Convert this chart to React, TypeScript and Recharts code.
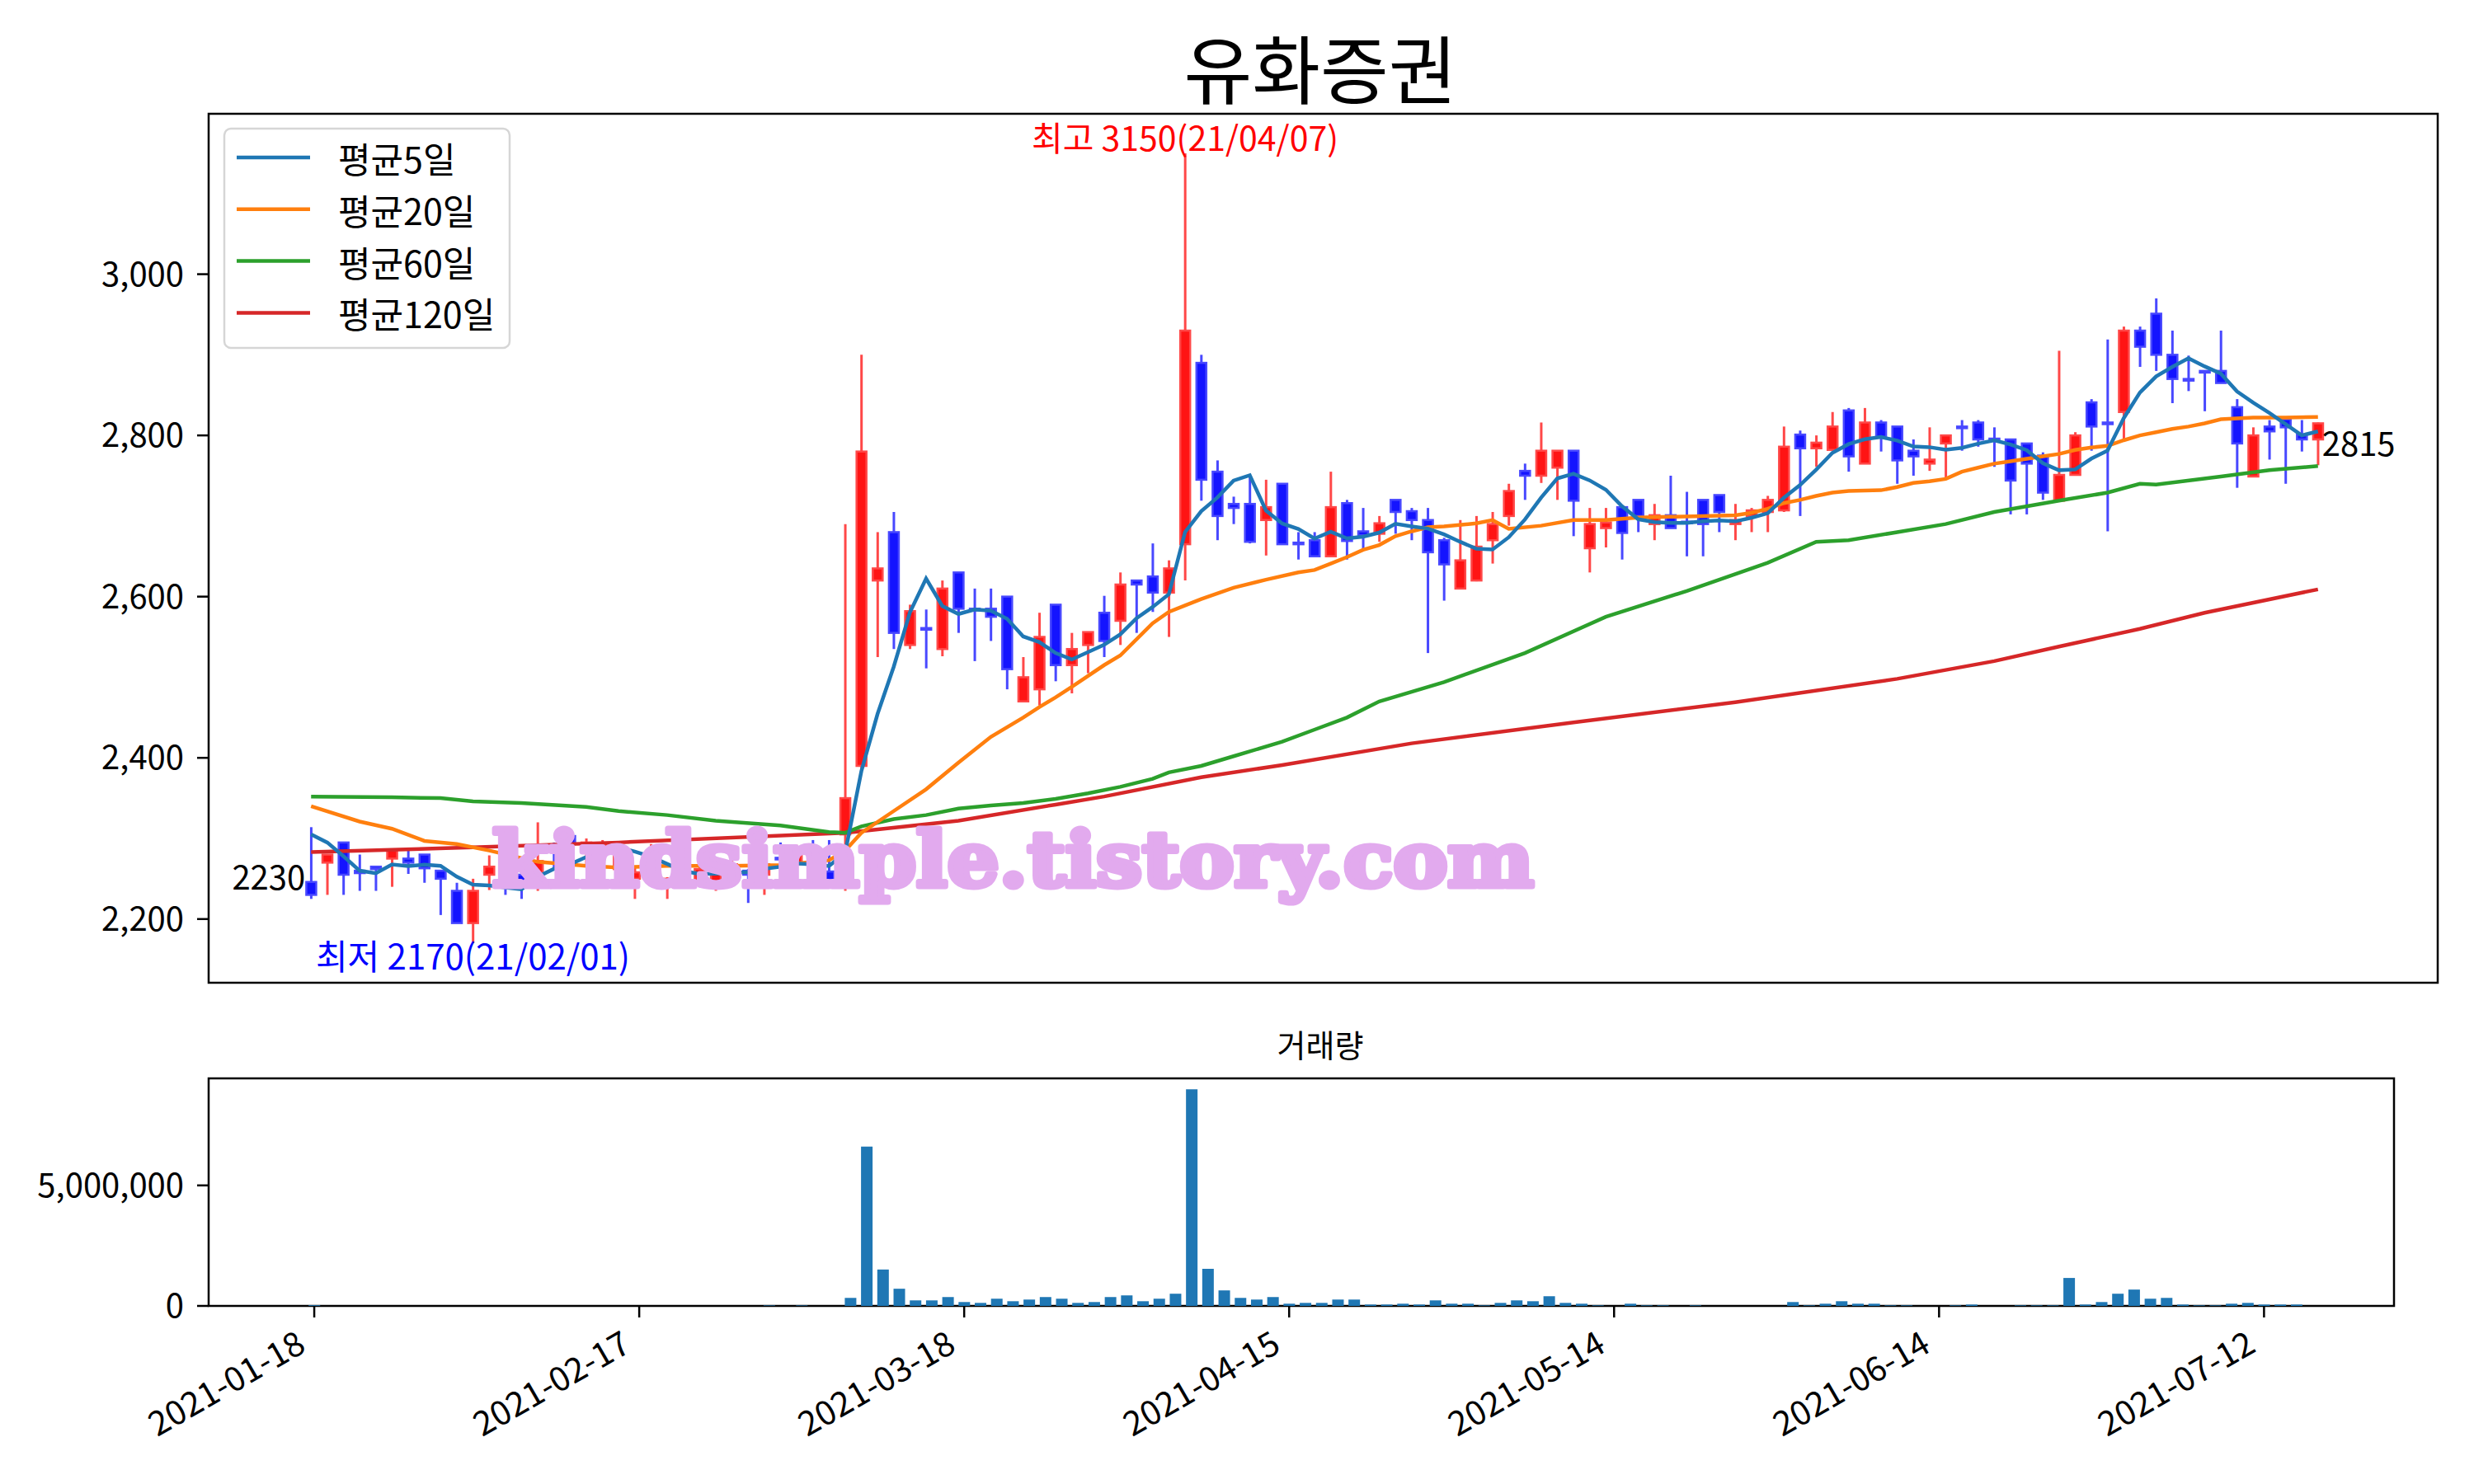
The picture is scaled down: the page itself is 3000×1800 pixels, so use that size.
import React from "react";
import {
  Bar,
  ComposedChart,
  Line,
  ReferenceArea,
  ReferenceDot,
  XAxis,
  YAxis,
} from "recharts";

const FONT = "'Noto Sans CJK KR', 'Noto Sans', sans-serif";

const UP_FILL = "#ff1414";
const UP_EDGE = "#ff4848";
const DOWN_FILL = "#1414ff";
const DOWN_EDGE = "#4848ff";

const TITLE = "유화증권";
const VOLUME_TITLE = "거래량";
const WATERMARK = "kindsimple.tistory.com";
const MA_LABELS = ["평균5일", "평균20일", "평균60일", "평균120일"];
const MA_COLORS = ["#1f77b4", "#ff7f0e", "#2ca02c", "#d62728"];

// trading-day index ticks and their labels
const TICK_IDX = [0, 20, 40, 60, 80, 100, 120];
const DATE_LABELS = [
  "2021-01-18",
  "2021-02-17",
  "2021-03-18",
  "2021-04-15",
  "2021-05-14",
  "2021-06-14",
  "2021-07-12",
];
const PRICE_TICKS = [2200, 2400, 2600, 2800, 3000];
const VOLUME_TICKS = [0, 5000000];

// daily OHLC, index 0 = 2021-01-18
const opens = [
  2246, 2270, 2295, 2260, 2265, 2275, 2275, 2280, 2260, 2235,
  2195, 2255, 2270, 2255, 2245, 2292, 2303, 2285, 2282, 2262,
  2250, 2256, 2240, 2265, 2248, 2244, 2255, 2260, 2255, 2276,
  2268, 2268, 2259, 2305, 2390, 2620, 2680, 2540, 2561, 2535,
  2630, 2585, 2585, 2600, 2470, 2485, 2590, 2515, 2540, 2580,
  2570, 2620, 2625, 2605, 2665, 2890, 2755, 2715, 2715, 2695,
  2740, 2667, 2670, 2650, 2716, 2681, 2678, 2720, 2706, 2695,
  2670, 2610, 2620, 2670, 2700, 2756, 2750, 2760, 2781, 2660,
  2685, 2711, 2720, 2690, 2701, 2693, 2720, 2726, 2690, 2700,
  2705, 2707, 2801, 2784, 2782, 2831, 2765, 2816, 2811, 2781,
  2765, 2790, 2811, 2816, 2796, 2795, 2790, 2775, 2719, 2751,
  2841, 2816, 2829, 2930, 2951, 2900, 2870, 2880, 2880, 2835,
  2749, 2811, 2820, 2801, 2795,
];
const highs = [
  2314, 2280, 2295, 2280, 2266, 2285, 2286, 2280, 2260, 2245,
  2250, 2279, 2272, 2258, 2320, 2295, 2310, 2300, 2298, 2285,
  2265, 2293, 2252, 2270, 2265, 2262, 2285, 2262, 2275, 2295,
  2292, 2298, 2298, 2690, 2900, 2680, 2705, 2590, 2584, 2620,
  2630, 2610, 2610, 2600, 2525, 2580, 2590, 2555, 2556, 2601,
  2630, 2620, 2666, 2645, 3150, 2900, 2769, 2724, 2750, 2745,
  2740, 2680, 2680, 2755, 2720, 2710, 2700, 2720, 2710, 2710,
  2673, 2695, 2700, 2705, 2740, 2765, 2816, 2781, 2781, 2710,
  2710, 2711, 2720, 2715, 2750, 2730, 2720, 2726, 2715, 2710,
  2725, 2811, 2806, 2800, 2829, 2834, 2834, 2819, 2811, 2795,
  2810, 2800, 2819, 2819, 2810, 2795, 2790, 2779, 2905, 2804,
  2845, 2919, 2935, 2935, 2970, 2930, 2899, 2880, 2930, 2845,
  2810, 2819, 2820, 2819, 2816,
];
const lows = [
  2225, 2230, 2230, 2235, 2235, 2240, 2256, 2245, 2205, 2195,
  2170, 2236, 2230, 2225, 2235, 2262, 2280, 2265, 2260, 2250,
  2225, 2246, 2225, 2240, 2245, 2235, 2245, 2220, 2230, 2260,
  2255, 2255, 2240, 2235, 2385, 2525, 2535, 2535, 2511, 2526,
  2555, 2520, 2545, 2485, 2470, 2465, 2495, 2480, 2505, 2525,
  2540, 2555, 2581, 2550, 2620, 2719, 2670, 2690, 2666, 2651,
  2665, 2646, 2650, 2650, 2646, 2659, 2668, 2678, 2670, 2530,
  2595, 2610, 2619, 2641, 2688, 2720, 2741, 2720, 2675, 2630,
  2661, 2646, 2680, 2670, 2685, 2650, 2650, 2680, 2670, 2680,
  2680, 2705, 2700, 2761, 2782, 2755, 2765, 2780, 2740, 2750,
  2756, 2747, 2781, 2786, 2761, 2702, 2702, 2720, 2719, 2751,
  2781, 2681, 2795, 2885, 2880, 2840, 2855, 2830, 2865, 2735,
  2749, 2770, 2740, 2780, 2763,
];
const closes = [
  2230, 2280, 2255, 2257, 2262, 2285, 2270, 2263, 2250, 2195,
  2235, 2265, 2250, 2240, 2272, 2284, 2294, 2295, 2292, 2280,
  2258, 2262, 2250, 2248, 2262, 2259, 2268, 2255, 2268, 2274,
  2280, 2262, 2245, 2350, 2780, 2635, 2555, 2582, 2560, 2610,
  2585, 2583, 2575, 2510, 2500, 2550, 2515, 2535, 2556, 2545,
  2615, 2615, 2605, 2635, 2930, 2745, 2700, 2710, 2668, 2711,
  2665, 2666, 2650, 2711, 2669, 2676, 2691, 2705, 2695, 2655,
  2640, 2645, 2662, 2690, 2731, 2750, 2781, 2781, 2719, 2690,
  2692, 2679, 2700, 2701, 2685, 2692, 2690, 2705, 2695, 2707,
  2720, 2786, 2784, 2791, 2811, 2774, 2816, 2798, 2769, 2774,
  2770, 2800, 2810, 2795, 2795, 2744, 2765, 2729, 2751, 2800,
  2811, 2815, 2930, 2910, 2900, 2870, 2869, 2879, 2865, 2790,
  2800, 2805, 2810, 2795, 2815,
];

// traded volume (shares), index 0..122
const volumes = [
  30000, 0, 0, 0, 0, 0, 0, 0, 0, 0,
  0, 0, 0, 0, 0, 0, 0, 0, 0, 0,
  0, 0, 0, 0, 0, 0, 0, 0, 20000, 0,
  20000, 0, 0, 333000, 6610000, 1510000, 713000, 230000, 230000, 368000,
  161000, 126000, 299000, 195000, 264000, 368000, 299000, 126000, 161000, 368000,
  437000, 195000, 299000, 506000, 8990000, 1540000, 644000, 333000, 264000, 368000,
  92000, 126000, 126000, 264000, 264000, 57000, 57000, 92000, 57000, 230000,
  92000, 92000, 23000, 126000, 230000, 195000, 402000, 126000, 92000, 23000,
  0, 92000, 23000, 23000, 0, 23000, 0, 0, 0, 0,
  0, 161000, 23000, 92000, 195000, 92000, 92000, 23000, 23000, 0,
  0, 23000, 57000, 0, 0, 23000, 23000, 23000, 1160000, 57000,
  161000, 506000, 678000, 299000, 333000, 57000, 23000, 23000, 92000, 126000,
  57000, 57000, 57000,
];

// moving averages: [index, value]
const ma5Head = [2305, 2295, 2278, 2260];
const ma20Pts: [number, number][] = [
  [0, 2340], [3, 2321], [5, 2312], [7, 2297], [9, 2293], [11, 2285], [14, 2271],
  [17, 2266], [19, 2264], [22, 2266], [26, 2266], [29, 2267], [32, 2273], [33, 2285],
  [34, 2307], [36, 2334], [38, 2361], [40, 2394], [42, 2426], [44, 2450], [45, 2463],
  [46, 2475], [47, 2488], [49, 2515], [50, 2527], [52, 2567], [53, 2581], [54, 2589],
  [55, 2597], [57, 2611], [59, 2621], [61, 2630], [62, 2633], [63, 2641], [64, 2649],
  [65, 2658], [66, 2664], [67, 2675], [68, 2681], [69, 2686], [70, 2687], [72, 2691],
  [73, 2695], [74, 2684], [76, 2688], [78, 2695], [80, 2695], [82, 2698], [84, 2699],
  [86, 2700], [88, 2701], [89, 2704], [90, 2709], [91, 2716], [92, 2720], [93, 2725],
  [94, 2729], [95, 2731], [97, 2732], [98, 2736], [99, 2741], [100, 2743], [101, 2746],
  [102, 2755], [103, 2760], [104, 2765], [105, 2768], [106, 2771], [107, 2774], [108, 2777],
  [109, 2782], [110, 2785], [111, 2787], [112, 2794], [113, 2800], [114, 2804], [115, 2808],
  [116, 2811], [117, 2815], [118, 2820], [119, 2821], [120, 2822], [122, 2822], [124, 2823],
];
const ma60Pts: [number, number][] = [
  [0, 2352], [5, 2351], [8, 2350], [10, 2346], [13, 2344], [17, 2339], [19, 2334],
  [22, 2329], [25, 2322], [29, 2316], [32, 2308], [33, 2307], [34, 2315], [36, 2324],
  [38, 2329], [40, 2337], [42, 2341], [44, 2344], [46, 2349], [48, 2356], [50, 2364],
  [52, 2374], [53, 2382], [55, 2390], [57, 2402], [60, 2420], [62, 2435], [64, 2450],
  [66, 2470], [70, 2494], [75, 2530], [80, 2575], [85, 2607], [90, 2642], [93, 2668],
  [95, 2670], [98, 2680], [101, 2690], [104, 2705], [108, 2719], [111, 2729], [113, 2740],
  [114, 2739], [118, 2749], [121, 2757], [124, 2762],
];
const ma120Pts: [number, number][] = [
  [0, 2283], [10, 2289], [19, 2295], [33, 2307], [40, 2322], [46, 2342], [49, 2352],
  [55, 2376], [60, 2391], [68, 2418], [78, 2444], [88, 2469], [98, 2498], [104, 2520],
  [108, 2538], [113, 2560], [117, 2580], [124, 2609],
];

const X_MIN = -6.33;
const X_MAX = 131.4;
const Y_MIN = 2121;
const Y_MAX = 3199;
const VX_MIN = -6.5;
const VX_MAX = 128;
const V_MAX = 9440000;

const toMap = (pts: [number, number][]) => new Map(pts);
const ma20Map = toMap(ma20Pts);
const ma60Map = toMap(ma60Pts);
const ma120Map = toMap(ma120Pts);

const rows = opens.map((open, i) => {
  const ma5 =
    i < 4
      ? ma5Head[i]
      : closes.slice(i - 4, i + 1).reduce((a, b) => a + b, 0) / 5;
  return {
    i,
    open,
    high: highs[i],
    low: lows[i],
    close: closes[i],
    range: [lows[i], highs[i]],
    ma5,
    ma20: ma20Map.get(i),
    ma60: ma60Map.get(i),
    ma120: ma120Map.get(i),
  };
});

const volRows = volumes.map((vol, i) => ({ i, vol }));

const hiIdx = highs.indexOf(Math.max(...highs));
const loIdx = lows.indexOf(Math.min(...lows));
const last = rows.length - 1;

function Candle(props: any) {
  const { x, y, width, height, payload } = props;
  if (x == null || !payload) return null;
  const { open, close, high, low } = payload;
  const up = close >= open;
  const span = high - low || 1;
  const py = (v: number) => y + ((high - v) / span) * height;
  const cx = x + width / 2;
  const top = py(Math.max(open, close));
  const bodyH = Math.max(py(Math.min(open, close)) - top, 2);
  return (
    <g>
      <line
        x1={cx}
        x2={cx}
        y1={y}
        y2={y + height}
        stroke={up ? UP_EDGE : DOWN_EDGE}
        strokeWidth={3}
      />
      <rect
        x={x + 1}
        y={top}
        width={width - 2}
        height={bodyH}
        fill={up ? UP_FILL : DOWN_FILL}
        stroke={up ? UP_EDGE : DOWN_EDGE}
        strokeWidth={2.5}
      />
    </g>
  );
}

function DateTick(props: any) {
  const { x, y, payload } = props;
  const label = DATE_LABELS[TICK_IDX.indexOf(payload.value)] ?? "";
  const bx = x - 8;
  const by = y + 38;
  return (
    <text
      x={bx}
      y={by}
      textAnchor="end"
      transform={`rotate(-30 ${bx} ${by})`}
      fontSize={41}
      fontFamily={FONT}
      fill="#000"
    >
      {label}
    </text>
  );
}

const tickStyle = { fontSize: 40, fill: "#000", fontFamily: FONT };
const tickLineStyle = { stroke: "#000", strokeWidth: 2.5 };
const fmt = (v: number) => v.toLocaleString("en-US");

function annotation(text: string, color: string, anchor: string, size: number, dx: number, dy: number) {
  return (p: any) => (
    <text
      x={p.cx + dx}
      y={p.cy + dy}
      textAnchor={anchor as any}
      fontSize={size}
      fontFamily={FONT}
      fill={color}
    >
      {text}
    </text>
  );
}

export default function App() {
  return (
    <div style={{ position: "absolute", left: 0, top: 0, width: 3000, height: 1800, background: "#fff" }}>
      <div style={{ position: "absolute", left: 0, top: 0 }}>
        <ComposedChart
          width={3000}
          height={1240}
          data={rows}
          margin={{ top: 138, right: 44, left: 0, bottom: 0 }}
        >
          <XAxis
            type="number"
            dataKey="i"
            domain={[X_MIN, X_MAX]}
            ticks={TICK_IDX}
            allowDataOverflow
            tick={false}
            tickSize={14}
            tickLine={tickLineStyle}
            axisLine={false}
            height={48}
          />
          <YAxis
            type="number"
            domain={[Y_MIN, Y_MAX]}
            ticks={PRICE_TICKS}
            allowDataOverflow
            tickFormatter={fmt}
            tick={tickStyle}
            tickSize={14}
            tickMargin={16}
            tickLine={tickLineStyle}
            axisLine={false}
            width={253}
          />
          <Bar dataKey="range" barSize={14} shape={<Candle />} isAnimationActive={false} />
          <Line dataKey="ma120" stroke={MA_COLORS[3]} strokeWidth={4.5} dot={false} connectNulls isAnimationActive={false} />
          <Line dataKey="ma60" stroke={MA_COLORS[2]} strokeWidth={4.5} dot={false} connectNulls isAnimationActive={false} />
          <Line dataKey="ma20" stroke={MA_COLORS[1]} strokeWidth={4.5} dot={false} connectNulls isAnimationActive={false} />
          <Line dataKey="ma5" stroke={MA_COLORS[0]} strokeWidth={4.5} dot={false} isAnimationActive={false} />
          <ReferenceDot
            x={hiIdx}
            y={highs[hiIdx]}
            r={0}
            ifOverflow="visible"
            shape={annotation(`최고 ${highs[hiIdx]}(21/04/07)`, "#ff0000", "middle", 41, 0, -3)}
          />
          <ReferenceDot
            x={loIdx}
            y={lows[loIdx]}
            r={0}
            ifOverflow="visible"
            shape={annotation(`최저 ${lows[loIdx]}(21/02/01)`, "#0000ff", "middle", 42, 0, 32)}
          />
          <ReferenceDot
            x={0}
            y={closes[0]}
            r={0}
            ifOverflow="visible"
            shape={annotation(String(closes[0]), "#000", "end", 40, -7, -6)}
          />
          <ReferenceDot
            x={last}
            y={closes[last]}
            r={0}
            ifOverflow="visible"
            shape={annotation(String(closes[last]), "#000", "start", 40, 5, 40)}
          />
          <ReferenceArea
            x1={X_MIN}
            x2={X_MAX}
            y1={Y_MIN}
            y2={Y_MAX}
            fill="none"
            stroke="#000"
            strokeWidth={2.5}
            ifOverflow="visible"
          />
        </ComposedChart>
      </div>

      <div style={{ position: "absolute", left: 0, top: 1200 }}>
        <ComposedChart
          width={3000}
          height={600}
          data={volRows}
          margin={{ top: 108, right: 97, left: 0, bottom: 0 }}
        >
          <XAxis
            type="number"
            dataKey="i"
            domain={[VX_MIN, VX_MAX]}
            ticks={TICK_IDX}
            allowDataOverflow
            tick={<DateTick />}
            tickSize={14}
            tickMargin={2}
            tickLine={tickLineStyle}
            axisLine={false}
            height={216}
          />
          <YAxis
            type="number"
            domain={[0, V_MAX]}
            ticks={VOLUME_TICKS}
            allowDataOverflow
            tickFormatter={fmt}
            tick={tickStyle}
            tickSize={14}
            tickMargin={16}
            tickLine={tickLineStyle}
            axisLine={false}
            width={253}
          />
          <Bar dataKey="vol" barSize={14} fill="#1f77b4" isAnimationActive={false} />
          <ReferenceArea
            x1={VX_MIN}
            x2={VX_MAX}
            y1={0}
            y2={V_MAX}
            fill="none"
            stroke="#000"
            strokeWidth={2.5}
            ifOverflow="visible"
          />
        </ComposedChart>
      </div>

      <svg
        width={3000}
        height={1800}
        style={{ position: "absolute", left: 0, top: 0, pointerEvents: "none" }}
      >
        <text x={1601} y={80} textAnchor="middle" dominantBaseline="central" fontSize={90} fontFamily={FONT} fill="#000">
          {TITLE}
        </text>
        <text x={1601} y={1265} textAnchor="middle" dominantBaseline="central" fontSize={38} fontFamily={FONT} fill="#000">
          {VOLUME_TITLE}
        </text>
        <g>
          <rect x={272} y={156} width={346} height={266} rx={8} fill="#fff" fillOpacity={0.8} stroke="#d6d6d6" strokeWidth={2.5} />
          {MA_LABELS.map((label, k) => {
            const cy = 191 + k * 62.8;
            return (
              <g key={label}>
                <line x1={287} x2={376} y1={cy} y2={cy} stroke={MA_COLORS[k]} strokeWidth={4.5} />
                <text x={410} y={cy} dominantBaseline="central" fontSize={43} fontFamily={FONT} fill="#000">
                  {label}
                </text>
              </g>
            );
          })}
        </g>
        <text
          x={597}
          y={1075}
          textLength={1263}
          lengthAdjust="spacingAndGlyphs"
          fontSize={92}
          fontWeight="bold"
          fontFamily="'DejaVu Serif', serif"
          fill="#e2aaee"
          stroke="#e2aaee"
          strokeWidth={7}
          strokeLinejoin="round"
        >
          {WATERMARK}
        </text>
      </svg>
    </div>
  );
}
